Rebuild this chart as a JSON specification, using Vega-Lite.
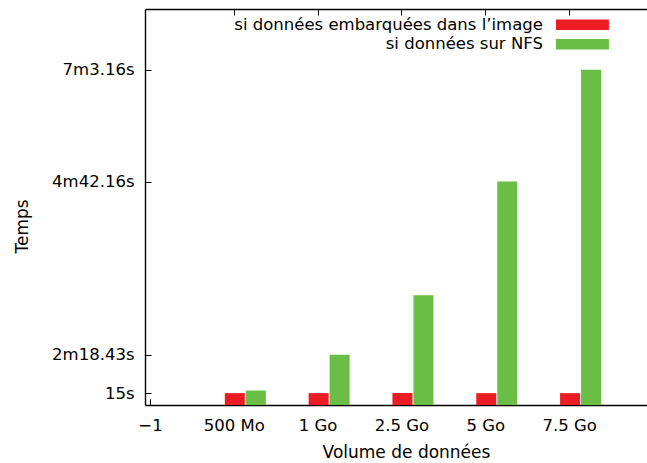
{
  "$schema": "https://vega.github.io/schema/vega-lite/v6.json",
  "width": 502,
  "height": 396,
  "autosize": {"type": "none"},
  "padding": {"left": 145, "top": 9, "right": 0, "bottom": 58},
  "background": "white",
  "config": {
    "view": {"stroke": null},
    "font": "DejaVu Sans",
    "axis": {
      "grid": false,
      "domainColor": "black",
      "domainWidth": 1.4,
      "tickColor": "black",
      "tickWidth": 1,
      "tickSize": -6,
      "labelColor": "black",
      "titleColor": "black",
      "labelFont": "DejaVu Sans",
      "titleFont": "DejaVu Sans",
      "labelFontSize": 16.5,
      "titleFontSize": 17,
      "titleFontWeight": "normal"
    }
  },
  "data": {
    "values": [
      {"volume": "500 Mo", "pos": 0, "serie": "si données embarquées dans l’image", "temps": 15},
      {"volume": "1 Go", "pos": 1, "serie": "si données embarquées dans l’image", "temps": 15},
      {"volume": "2.5 Go", "pos": 2, "serie": "si données embarquées dans l’image", "temps": 15},
      {"volume": "5 Go", "pos": 3, "serie": "si données embarquées dans l’image", "temps": 15},
      {"volume": "7.5 Go", "pos": 4, "serie": "si données embarquées dans l’image", "temps": 15},
      {"volume": "500 Mo", "pos": 0, "serie": "si données sur NFS", "temps": 18.3},
      {"volume": "1 Go", "pos": 1, "serie": "si données sur NFS", "temps": 63.4},
      {"volume": "2.5 Go", "pos": 2, "serie": "si données sur NFS", "temps": 138.43},
      {"volume": "5 Go", "pos": 3, "serie": "si données sur NFS", "temps": 282.16},
      {"volume": "7.5 Go", "pos": 4, "serie": "si données sur NFS", "temps": 423.16}
    ]
  },
  "layer": [
    {
      "transform": [{"filter": "datum.serie === 'si données embarquées dans l’image'"}],
      "mark": {"type": "bar", "size": 20, "xOffset": 1},
      "encoding": {
        "x": {
          "field": "pos",
          "type": "quantitative",
          "scale": {"domain": [-1, 4.87], "nice": false, "zero": false},
          "axis": {
            "orient": "bottom",
            "values": [-1, 0, 1, 2, 3, 4],
            "labelExpr": "datum.value == -1 ? '−1' : datum.value == 0 ? '500 Mo' : datum.value == 1 ? '1 Go' : datum.value == 2 ? '2.5 Go' : datum.value == 3 ? '5 Go' : '7.5 Go'",
            "labelPadding": 18,
            "labelFlush": false,
            "title": "Volume de données",
            "titleX": 261,
            "titleY": 47,
            "titleBaseline": "middle"
          }
        },
        "y": {
          "field": "temps",
          "type": "quantitative",
          "scale": {"domain": [0, 500], "nice": false},
          "axis": {
            "values": [15, 63.4, 282.16, 423.16],
            "labelExpr": "datum.value == 15 ? '15s' : datum.value == 63.4 ? '2m18.43s' : datum.value == 282.16 ? '4m42.16s' : '7m3.16s'",
            "labelPadding": 17,
            "title": "Temps",
            "titlePadding": 20,
            "titleY": 217
          }
        },
        "color": {
          "field": "serie",
          "type": "nominal",
          "scale": {
            "domain": ["si données embarquées dans l’image", "si données sur NFS"],
            "range": ["#ed1c24", "#6abd45"]
          },
          "legend": {
            "orient": "none",
            "legendX": 429.2,
            "legendY": 7.5,
            "title": null,
            "padding": 0,
            "symbolType": "M-5,-1H5V1H-5Z",
            "symbolSize": 112,
            "symbolStrokeWidth": 0,
            "symbolOpacity": 1,
            "rowPadding": 2.5,
            "labelAlign": "right",
            "labelOffset": -47.8,
            "labelLimit": 500,
            "labelFont": "DejaVu Sans",
            "labelFontSize": 16.5,
            "labelColor": "black"
          }
        }
      }
    },
    {
      "transform": [{"filter": "datum.serie === 'si données sur NFS'"}],
      "mark": {"type": "bar", "size": 20, "xOffset": 22},
      "encoding": {
        "x": {
          "field": "pos",
          "type": "quantitative",
          "axis": {
            "orient": "top",
            "values": [0, 1, 2, 3, 4],
            "labels": false,
            "title": null
          }
        },
        "y": {"field": "temps", "type": "quantitative"},
        "color": {"field": "serie", "type": "nominal"}
      }
    }
  ],
  "resolve": {"axis": {"x": "independent"}}
}
